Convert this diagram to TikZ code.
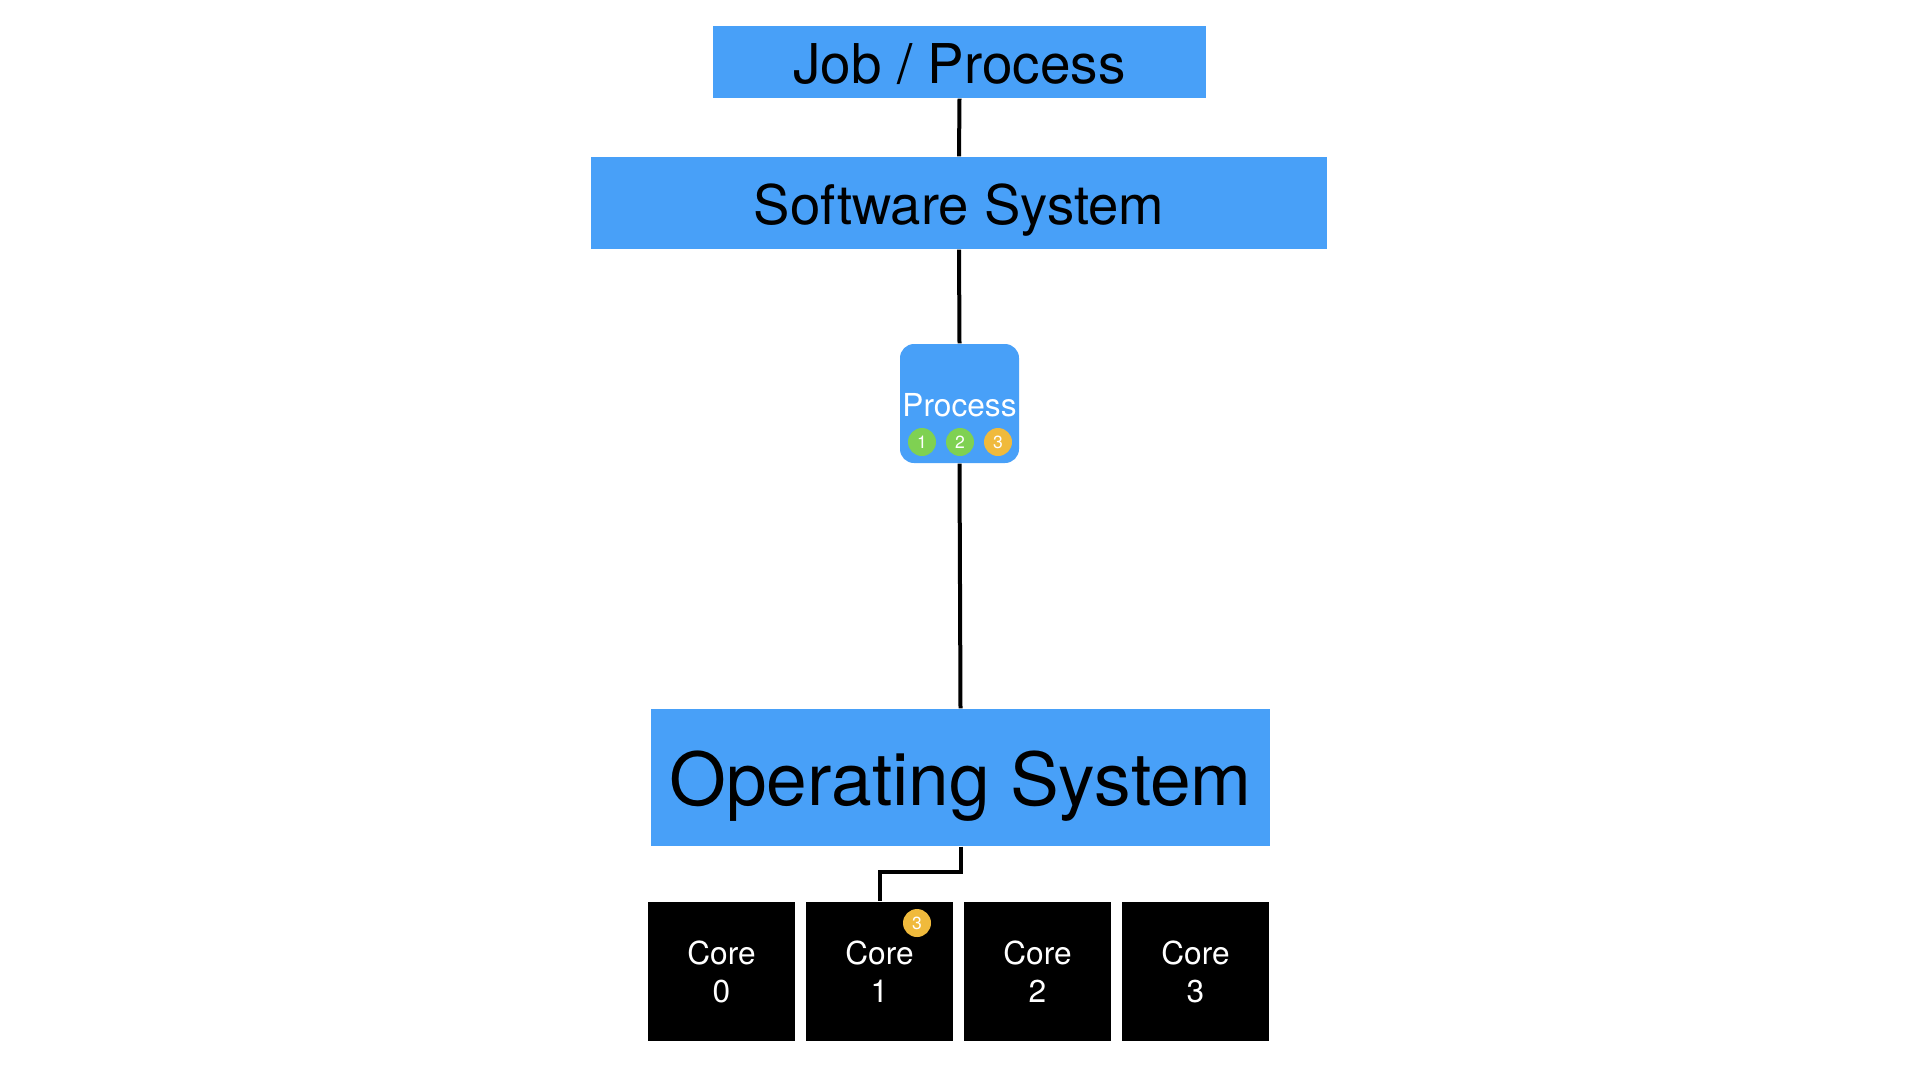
\documentclass[tikz,border=0pt]{standalone}
\usepackage{fontspec}
\setmainfont{TeX Gyre Heros}
\usepackage{tikz}
\definecolor{layerblue}{HTML}{48A0F8}
\definecolor{tgreen}{HTML}{7FD152}
\definecolor{tamber}{HTML}{F0BA3C}

\begin{document}
\begin{tikzpicture}[x=0.1mm, y=-0.1mm,
		layer/.style={fill=layerblue, draw=none, inner sep=0pt, text depth=0pt},
		core/.style={fill=black, draw=none, inner sep=0pt, text=white, align=center,
			minimum width=14.7mm, minimum height=13.9mm, font=\fontsize{9pt}{10.8pt}\selectfont},
		thread/.style={circle, draw=none, inner sep=0pt, minimum size=2.8mm, text=white,
			font=\fontsize{5pt}{6pt}\selectfont},
		link/.style={line width=0.4mm, color=black}]
		%%%%% START %%%%%
		
		\useasboundingbox (0, 0) rectangle (1920, 1080);
		
		\node[layer, minimum width=49.3mm, minimum height=7.2mm, text height=12.3pt, font=\fontsize{15.6pt}{18pt}\selectfont] (job) at (959.5, 62) {Job / Process};
		\node[layer, minimum width=73.6mm, minimum height=9.2mm, text height=12.3pt, font=\fontsize{15.5pt}{18pt}\selectfont] (soft) at (959, 203) {Software System};
		
		\node[layer, rounded corners=1.4mm, minimum width=11.9mm, minimum height=11.9mm] (proc) at (959.5, 403.5) {};
		\node[text=white, inner sep=0pt, font=\fontsize{9pt}{10.8pt}\selectfont] (proclabel) at (959.5, 405) {Process};
		\node[thread, fill=tgreen] (p1) at (922, 442) {1};
		\node[thread, fill=tgreen] (p2) at (960, 442) {2};
		\node[thread, fill=tamber] (p3) at (998, 442) {3};
		
		\node[layer, minimum width=61.9mm, minimum height=13.7mm, text height=16pt, font=\fontsize{20.8pt}{24pt}\selectfont] (os) at (960.5, 777.5) {Operating System};
		
		\node[core] (core0) at (721.5, 971.5) {Core\\0};
		\node[core] (core1) at (879.5, 971.5) {Core\\1};
		\node[core] (core2) at (1037.5, 971.5) {Core\\2};
		\node[core] (core3) at (1195.5, 971.5) {Core\\3};
		\node[thread, fill=tamber] (c1thread) at (917, 923) {3};
		
		\draw[link] (job.south) -- (soft.north);
		\draw[link] (soft.south) -- (proc.north);
		\draw[link] (proc.south) -- (os.north);
		\draw[link] (os.south) -- ++(0, 25) -| (core1.north);
		
		%%%%% END %%%%%
\end{tikzpicture}
\end{document}
